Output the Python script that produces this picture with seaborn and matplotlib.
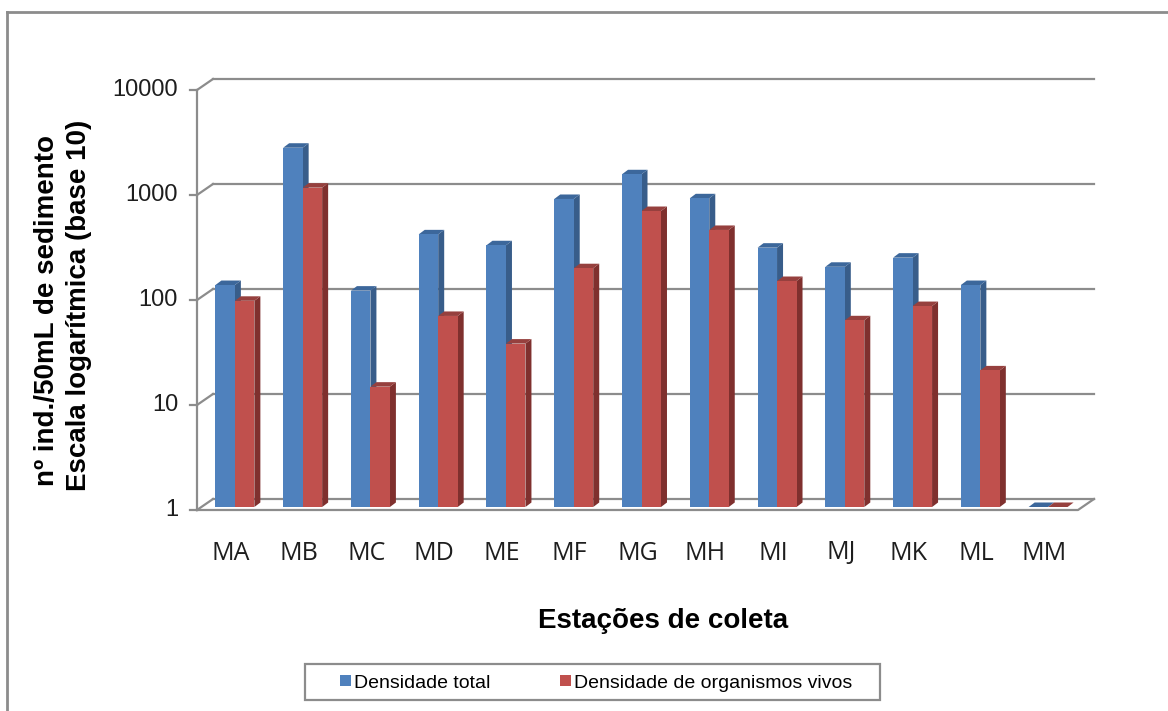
import pandas as pd
import matplotlib
matplotlib.use('Agg')
import matplotlib.pyplot as plt
from matplotlib.patches import Polygon, Patch, Rectangle
from matplotlib.lines import Line2D
import seaborn as sns

# dados
estacoes = ['MA', 'MB', 'MC', 'MD', 'ME', 'MF', 'MG', 'MH', 'MI', 'MJ', 'MK', 'ML', 'MM']
densidade_total = [130, 2640, 115, 395, 311, 858, 1475, 871, 295, 194, 237, 130, 1]
densidade_vivos = [92, 1100, 14, 66, 36, 188, 659, 435, 142, 60, 82, 20, 1]
series = ['Densidade total', 'Densidade de organismos vivos']
yticks = [1, 10, 100, 1000, 10000]

cores = ['#4F81BD', '#C0504D']
cores_lado = ['#385D8A', '#7F302E']
cores_topo = ['#3C679B', '#96403E']
cinza = '#8C8C8C'
texto = '#1E1E1E'

df = pd.DataFrame({
    'estacao': estacoes * 2,
    'serie': [series[0]] * len(estacoes) + [series[1]] * len(estacoes),
    'valor': densidade_total + densidade_vivos,
})

W, H = 1168, 711
fig = plt.figure(figsize=(W / 100, H / 100), dpi=100)

# plano das barras em pixels
x0, x1, yb, yt = 201, 1082, 507, 87
ax = fig.add_axes([x0 / W, 1 - yb / H, (x1 - x0) / W, (yb - yt) / H])
ax.set_yscale('log')
sns.barplot(data=df, x='estacao', y='valor', hue='serie', palette=cores,
            saturation=1, width=0.575, errorbar=None, legend=False,
            ax=ax, zorder=3, linewidth=0)
ax.set_xlim(-0.5, 12.5)
ax.set_ylim(1, 10000)
ax.axis('off')

n = len(estacoes)
ppx = (x1 - x0) / n       # pixels por categoria
ppd = (yb - yt) / 4       # pixels por decada


def shift(x, y, dxp, dyp):
    # desloca um ponto de dados por (dxp, dyp) pixels
    return x + dxp / ppx, y * 10 ** (dyp / ppd)


# faces laterais e superiores (efeito 3D)
for k, bar in enumerate(ax.patches):
    s = k // n
    bx0 = bar.get_x()
    bx1 = bx0 + bar.get_width()
    top = max(bar.get_y() + bar.get_height(), 1)
    lado = [(bx1, 1), (bx1, top), shift(bx1, top, 6, 4.5), shift(bx1, 1, 6, 4.5)]
    topo = [(bx0, top), (bx1, top), shift(bx1, top, 6, 4.5), shift(bx0, top, 6, 4.5)]
    ax.add_patch(Polygon(lado, closed=True, facecolor=cores_lado[s], edgecolor='none', zorder=2, clip_on=False))
    ax.add_patch(Polygon(topo, closed=True, facecolor=cores_topo[s], edgecolor='none', zorder=2, clip_on=False))

# parede do fundo, chao e eixo frontal
kw = dict(color=cinza, lw=1.6, clip_on=False, zorder=1)
for v in yticks:
    a, b = shift(-0.5, v, 12, 8), shift(12.5, v, 12, 8)
    ax.plot([a[0], b[0]], [a[1], b[1]], **kw)
    c = shift(-0.5, v, -4, -3)
    ax.plot([c[0], a[0]], [c[1], a[1]], **kw)
    t = shift(-0.5, v, -11, -3)
    ax.plot([t[0], c[0]], [t[1], c[1]], **kw)
    ax.text(*shift(-0.5, v, -23, -3), f'{v}', ha='right', va='center',
            fontsize=17, family='Liberation Sans', color=texto)

p1, p2 = shift(-0.5, 1, -4, -3), shift(-0.5, 10000, -4, -3)
ax.plot([p1[0], p2[0]], [p1[1], p2[1]], **kw)
f1, f2, f3 = shift(-0.5, 1, -4, -3), shift(12.5, 1, -4, -3), shift(12.5, 1, 12, 8)
ax.plot([f1[0], f2[0], f3[0]], [f1[1], f2[1], f3[1]], **kw)

for i, nome in enumerate(estacoes):
    ax.text(*shift(i, 1, -4, -46), nome, ha='center', va='center',
            fontsize=18, family='Open Sans', color=texto)

# titulos dos eixos
fig.text(47 / W, 1 - 310 / H, 'nº ind./50mL de sedimento', rotation=90,
         ha='center', va='center', fontsize=20, fontweight='bold', family='Liberation Sans')
fig.text(79 / W, 1 - 305 / H, 'Escala logarítmica (base 10)', rotation=90,
         ha='center', va='center', fontsize=20, fontweight='bold', family='Liberation Sans')
fig.text(663 / W, 1 - 621 / H, 'Estações de coleta', ha='center', va='center',
         fontsize=20, fontweight='bold', family='Liberation Sans')

# legenda
handles = [Patch(facecolor=c, edgecolor='none') for c in cores]
fig.legend(handles, series, loc='center', bbox_to_anchor=(596 / W, 1 - 683 / H),
           ncol=2, frameon=False, handlelength=0.55, handleheight=0.55,
           handletextpad=0.15, columnspacing=3.6,
           prop={'family': 'Liberation Sans', 'size': 14})
fig.add_artist(Rectangle((305 / W, 1 - 700 / H), 575 / W, 36 / H, fill=False,
                         edgecolor=cinza, lw=1.6, transform=fig.transFigure))

# moldura externa
fig.add_artist(Line2D([7 / W, 7 / W], [0, 1 - 12 / H], color=cinza, lw=2, transform=fig.transFigure))
fig.add_artist(Line2D([7 / W, 1], [1 - 12 / H, 1 - 12 / H], color=cinza, lw=2, transform=fig.transFigure))

fig.savefig('out.png', dpi=100)
